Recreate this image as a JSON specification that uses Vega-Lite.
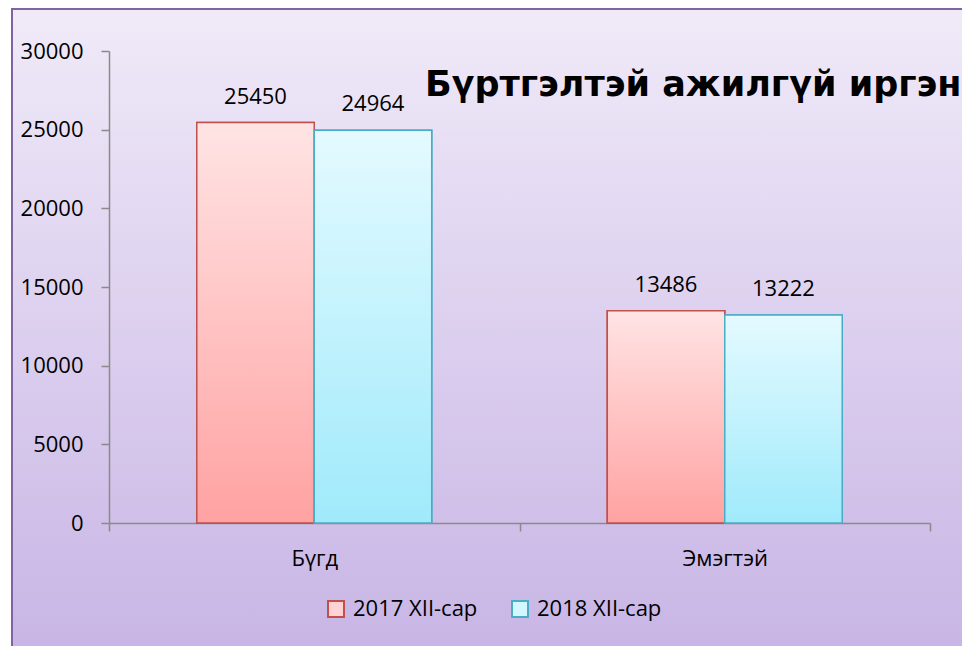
{
  "$schema": "https://vega.github.io/schema/vega-lite/v6.json",
  "width": 952,
  "height": 640,
  "autosize": {"type": "none"},
  "padding": {"left": 12, "top": 9, "right": 0, "bottom": 0},
  "background": "white",
  "config": {
    "font": "Open Sans",
    "view": {
      "stroke": "#8064a2",
      "strokeWidth": 2,
      "fill": {
        "gradient": "linear", "x1": 0, "y1": 0, "x2": 0, "y2": 1,
        "stops": [
          {"offset": 0, "color": "#f0eaf8"},
          {"offset": 1, "color": "#c8b5e5"}
        ]
      }
    },
    "axis": {
      "labelFont": "Open Sans",
      "labelFontSize": 22,
      "labelColor": "#000000",
      "domainColor": "#8a8a8a",
      "tickColor": "#8a8a8a",
      "domainWidth": 1.5,
      "tickWidth": 1.5,
      "tickSize": 8,
      "grid": false,
      "title": null
    }
  },
  "title": {
    "text": "Бүртгэлтэй ажилгүй иргэн",
    "anchor": "start",
    "frame": "group",
    "orient": "top",
    "offset": 0,
    "dx": 413,
    "dy": 122,
    "baseline": "alphabetic",
    "font": "DejaVu Sans",
    "fontSize": 35,
    "fontWeight": "bold",
    "color": "#000000"
  },
  "data": {
    "values": [
      {"group": "Бүгд", "series": "2017 XII-сар", "value": 25450},
      {"group": "Бүгд", "series": "2018 XII-сар", "value": 24964},
      {"group": "Эмэгтэй", "series": "2017 XII-сар", "value": 13486},
      {"group": "Эмэгтэй", "series": "2018 XII-сар", "value": 13222}
    ]
  },
  "encoding": {
    "x": {
      "field": "group",
      "type": "nominal",
      "sort": ["Бүгд", "Эмэгтэй"],
      "scale": {"range": [97, 918], "paddingInner": 0, "paddingOuter": 0},
      "axis": {
        "orient": "bottom",
        "offset": -126,
        "tickBand": "extent",
        "labelAngle": 0,
        "labelPadding": 17
      }
    },
    "xOffset": {
      "field": "series",
      "type": "nominal",
      "sort": ["2017 XII-сар", "2018 XII-сар"],
      "scale": {"paddingInner": 0, "paddingOuter": 0.747}
    },
    "y": {
      "field": "value",
      "type": "quantitative",
      "scale": {"domain": [0, 30000], "range": [514, 42], "nice": false},
      "axis": {
        "orient": "left",
        "offset": -97,
        "values": [0, 5000, 10000, 15000, 20000, 25000, 30000],
        "format": "d",
        "labelPadding": 18
      }
    }
  },
  "layer": [
    {
      "mark": {"type": "bar", "strokeWidth": 1.5},
      "encoding": {
        "fill": {
          "field": "series",
          "type": "nominal",
          "sort": ["2017 XII-сар", "2018 XII-сар"],
          "scale": {"range": ["#ffd3d3", "#d3f7fe"]},
          "legend": {
            "title": null,
            "orient": "none",
            "direction": "horizontal",
            "legendX": 313,
            "legendY": 589,
            "padding": 0,
            "symbolType": "square",
            "symbolSize": 256,
            "symbolStrokeWidth": 2,
            "labelFont": "Open Sans",
            "labelFontSize": 22,
            "labelColor": "#000000",
            "labelOffset": 6,
            "labelLimit": 300,
            "columnPadding": 30,
            "encode": {
              "symbols": {
                "update": {
                  "stroke": {"signal": "datum.value === '2017 XII-сар' ? '#c0504d' : '#4bacc6'"},
                  "strokeWidth": {"value": 2}
                }
              }
            }
          }
        },
        "stroke": {
          "field": "series",
          "type": "nominal",
          "sort": ["2017 XII-сар", "2018 XII-сар"],
          "scale": {"range": ["#c0504d", "#4bacc6"]},
          "legend": null
        }
      }
    },
    {
      "mark": {"type": "bar", "strokeWidth": 1.5},
      "encoding": {
        "fill": {
          "condition": {
            "test": "datum.series === '2017 XII-сар'",
            "value": {
              "gradient": "linear", "x1": 0, "y1": 0, "x2": 0, "y2": 1,
              "stops": [
                {"offset": 0, "color": "#ffe4e4"},
                {"offset": 1, "color": "#ffa2a2"}
              ]
            }
          },
          "value": {
            "gradient": "linear", "x1": 0, "y1": 0, "x2": 0, "y2": 1,
            "stops": [
              {"offset": 0, "color": "#e4faff"},
              {"offset": 1, "color": "#a0eafb"}
            ]
          }
        },
        "stroke": {
          "field": "series",
          "type": "nominal",
          "sort": ["2017 XII-сар", "2018 XII-сар"],
          "legend": null
        }
      }
    },
    {
      "mark": {
        "type": "text",
        "baseline": "alphabetic",
        "dy": -19,
        "font": "Open Sans",
        "fontSize": 22,
        "color": "#000000"
      },
      "encoding": {
        "text": {"field": "value", "type": "quantitative", "format": "d"}
      }
    }
  ]
}
